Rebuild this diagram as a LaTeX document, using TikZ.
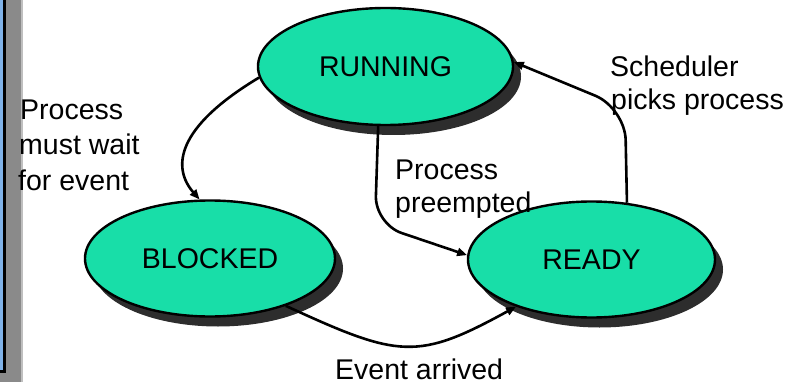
\documentclass[tikz,border=0pt]{standalone}
\usepackage{fontspec}
\setmainfont{Liberation Sans}
\usetikzlibrary{shapes.geometric,shadows,arrows.meta}
\definecolor{statefill}{RGB}{24,222,168}
\definecolor{panelblue}{RGB}{128,178,232}
\definecolor{panelgrey}{RGB}{138,138,138}
\definecolor{shadowgrey}{RGB}{45,45,45}
\tikzset{
  state/.style={ellipse, draw=black, line width=2.4pt, fill=statefill,
    minimum width=250pt, minimum height=116pt, inner sep=0pt,
    font=\fontsize{28.5}{34}\selectfont,
    drop shadow={shadow xshift=8pt, shadow yshift=-10pt, fill=shadowgrey, opacity=1}},
  conn/.style={line width=2.6pt, -{Triangle[length=10pt,width=8pt]}},
  lbl/.style={anchor=base west, inner sep=0pt, font=\fontsize{28.5}{34}\selectfont}
}
\begin{document}
\begin{tikzpicture}[x=1pt,y=-1pt]
\useasboundingbox (0,0) rectangle (792,382);
% left panel strip
\fill[panelgrey] (0,-1) rectangle (21,383);
\fill[black!25] (21,-1) rectangle (22.5,383);
\fill[panelblue] (0,-1) rectangle (3,370);
\fill[black] (3,-1) rectangle (6,373);
\fill[black] (0,370) rectangle (6,373);
% states
\node[state, minimum width=255pt, minimum height=117pt] (run) at (385.5,66.5) {RUNNING};
\node[state] (blk) at (210,258.5) {BLOCKED};
\node[state, minimum width=247pt] (rdy) at (591.5,259.5) {READY};
% connectors
\coordinate (c2) at (375,224);
\coordinate (c3) at (625,108);
\draw[conn] (run.185) .. controls (175,128) and (172,168) .. (blk.100);
\draw[conn, rounded corners=28pt] (run.263) -- (c2) -- (rdy.178);
\draw[conn, rounded corners=32pt] (rdy.58.6) -- (c3) -- (run.2);
\draw[conn] (blk.-32) .. controls (399,358) and (417,361) .. (rdy.212);
% labels
\node[lbl] (w1) at (20,120) {Process};
\node[lbl] (w2) at (19,155) {must wait};
\node[lbl] (w3) at (18,190) {for event};
\node[lbl] (p1) at (395,180) {Process};
\node[lbl] (p2) at (395,212) {preempted};
\node[lbl] (s1) at (610,77) {Scheduler};
\node[lbl] (s2) at (611,110) {picks process};
\node[lbl] (e1) at (335,379) {Event arrived};
\end{tikzpicture}
\end{document}
